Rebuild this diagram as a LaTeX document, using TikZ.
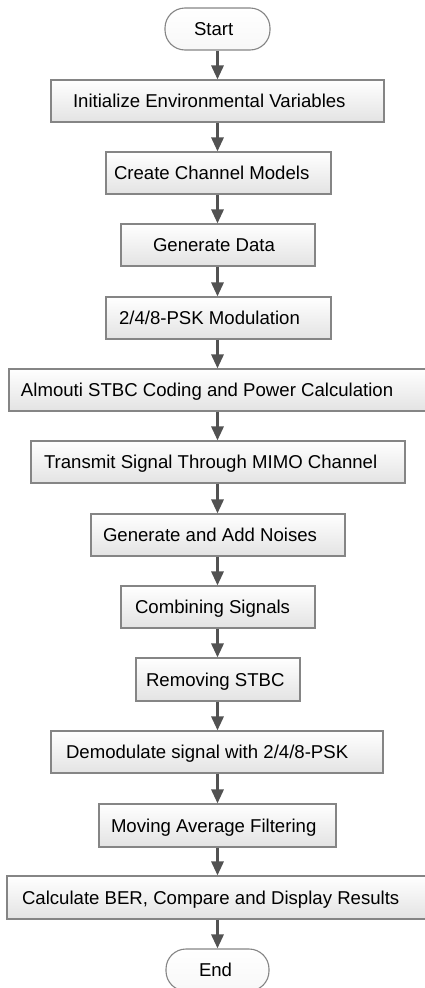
\documentclass[tikz,border=0pt]{standalone}
\usepackage{fontspec}
\setmainfont{Liberation Sans}
\usetikzlibrary{arrows.meta}
% fixed-width label with a left indent: #1 box width, #2 indent, #3 text
\newcommand{\padtext}[3]{\makebox[#1pt][l]{\hspace*{#2pt}#3}}
\begin{document}
\begin{tikzpicture}[x=1pt,y=-1pt,
  procbox/.style={draw=black!48, line width=1.1pt, top color=white, bottom color=black!11,
    inner sep=0pt, minimum height=42pt, text height=13.4pt, text depth=0pt,
    font=\fontsize{18.6}{22}\selectfont},
  termbox/.style={procbox, rounded corners=20pt, top color=white, bottom color=black!3},
  flow/.style={draw=black!68, line width=3pt, -{Triangle[width=12pt,length=14pt]}}]
  \useasboundingbox (0,0) rectangle (425,988);

  \node[termbox] (start) at (217.5,29) {\padtext{105}{29}{Start}};
  \node[procbox] (b1) at (217.5,101) {\padtext{333}{22}{Initialize Environmental Variables}};
  \node[procbox] (b2) at (218.5,173) {\padtext{225}{8}{Create Channel Models}};
  \node[procbox] (b3) at (218,245) {\padtext{194}{32}{Generate Data}};
  \node[procbox] (b4) at (218.5,318) {\padtext{225}{13}{2/4/8-PSK Modulation}};
  \node[procbox] (b5) at (217.5,390) {\padtext{417}{12}{Almouti STBC Coding and Power Calculation}};
  \node[procbox] (b6) at (218,462) {\padtext{374}{13}{Transmit Signal Through MIMO Channel}};
  \node[procbox] (b7) at (218,535) {\padtext{254}{12}{Generate and Add Noises}};
  \node[procbox] (b8) at (218,607) {\padtext{194}{14}{Combining Signals}};
  \node[procbox, minimum height=43pt] (b9) at (218,679.5) {\padtext{164}{10}{Removing STBC}};
  \node[procbox] (b10) at (217,752) {\padtext{332}{15}{Demodulate signal with 2/4/8-PSK}};
  \node[procbox, minimum height=43pt] (b11) at (217.5,825.5) {\padtext{237}{12}{Moving Average Filtering}};
  \node[procbox, minimum height=43pt] (b12) at (217.5,897.5) {\padtext{421}{15}{Calculate BER, Compare and Display Results}};
  \node[termbox] (end) at (217.5,970) {\padtext{103}{33}{End}};

  \foreach \a/\b in {start/b1, b1/b2, b2/b3, b3/b4, b4/b5, b5/b6, b6/b7,
                     b7/b8, b8/b9, b9/b10, b10/b11, b11/b12, b12/end}
    \draw[flow] (\a.south -| start.south) -- (\b.north -| start.south);
\end{tikzpicture}
\end{document}
